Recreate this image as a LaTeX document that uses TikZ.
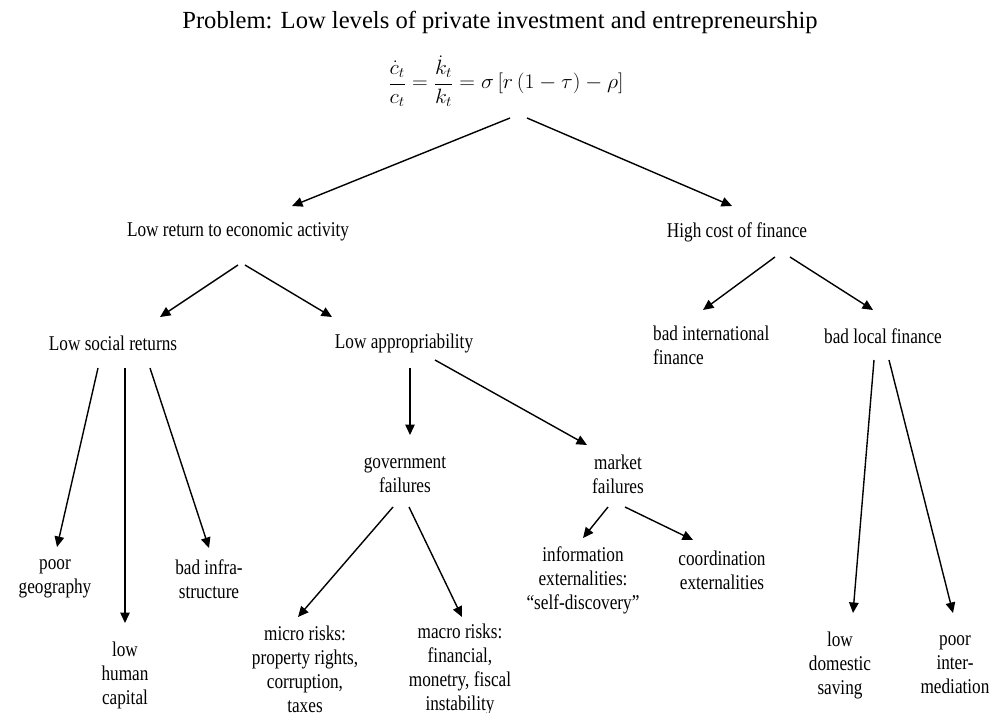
\documentclass[tikz,border=0pt]{standalone}
\usepackage{fontspec}
\setmainfont{Liberation Serif}
\newfontfamily\condfont{Liberation Serif}[FakeStretch=0.82]
\usetikzlibrary{arrows.meta}
\tikzset{
  lbl/.style={inner sep=0pt, align=center, font=\condfont\fontsize{21}{24}\selectfont},
  arr/.style={-{Triangle[length=10.5pt,width=9.5pt]}, line width=1.4pt},
}
\begin{document}
\begin{tikzpicture}[x=1pt,y=-1pt]
\useasboundingbox (0,0) rectangle (998,712);
\fill[white] (0,0) rectangle (998,712);
% title and equation
\node[inner sep=0pt, font=\fontsize{24.6}{28}\selectfont] (title) at (500,22) {Problem: Low levels of private investment and entrepreneurship};
\node[inner sep=0pt, font=\fontsize{20.5}{24}\selectfont] (eq) at (506,81) {\scalebox{1.05}[1]{$\displaystyle \frac{\dot{c}_t}{c_t}=\frac{\dot{k}_t}{k_t}=\sigma\left[r\left(1-\tau\right)-\rho\right]$}};
% level 1
\node[lbl] (lrea) at (238,232) {Low return to economic activity};
\node[lbl] (hcf) at (737,232) {High cost of finance};
% level 2
\node[lbl] (lsr) at (113,343) {Low social returns};
\node[lbl] (lap) at (404,343) {Low appropriability};
\node[lbl, align=left, anchor=west] (bif) at (653,345) {bad international\\finance};
\node[lbl] (blf) at (883,336) {bad local finance};
% level 3
\node[lbl] (gf) at (405,475) {government\\failures};
\node[lbl] (mf) at (618,474) {market\\failures};
\node[lbl] (pg) at (55,579) {poor\\geography};
\node[lbl] (lhc) at (125,675) {low\\human\\capital};
\node[lbl] (bi) at (209,579) {bad infra-\\structure};
% level 4
\node[lbl] (micro) at (305,669) {micro risks:\\property rights,\\corruption,\\taxes};
\node[lbl] (macro) at (460,669) {macro risks:\\financial,\\monetry, fiscal\\instability};
\node[lbl] (info) at (583,580) {information\\externalities:\\“self-discovery”};
\node[lbl] (coord) at (722,570) {coordination\\externalities};
\node[lbl] (lds) at (840,665) {low\\domestic\\saving};
\node[lbl] (pim) at (955,665) {poor\\inter-\\mediation};
% connectors
\draw[arr] ([shift={(4,37)}]eq.center) -- ([shift={(54,-26)}]lrea.center);
\draw[arr] ([shift={(21,37)}]eq.center) -- ([shift={(-5,-26)}]hcf.center);
\draw[arr] ([shift={(0,33)}]lrea.center) -- ([shift={(47,-26)}]lsr.center);
\draw[arr] ([shift={(7,33)}]lrea.center) -- ([shift={(-72,-26)}]lap.center);
\draw[arr] ([shift={(38,25)}]hcf.center) -- ([shift={(50,-35)}]bif.west);
\draw[arr] ([shift={(53,25)}]hcf.center) -- ([shift={(-10,-26)}]blf.center);
\draw[arr] ([shift={(-15,25)}]lsr.center) -- ([shift={(2,-32)}]pg.center);
\draw[arr] ([shift={(12,25)}]lsr.center) -- ([shift={(0,-52)}]lhc.center);
\draw[arr] ([shift={(37,25)}]lsr.center) -- ([shift={(0,-31)}]bi.center);
\draw[arr] ([shift={(6,25)}]lap.center) -- ([shift={(5,-40)}]gf.center);
\draw[arr] ([shift={(31,17)}]lap.center) -- ([shift={(-31,-29)}]mf.center);
\draw[arr] ([shift={(-12,32)}]gf.center) -- ([shift={(-7,-52)}]micro.center);
\draw[arr] ([shift={(4,32)}]gf.center) -- ([shift={(2,-52)}]macro.center);
\draw[arr] ([shift={(-10,33)}]mf.center) -- ([shift={(0,-42)}]info.center);
\draw[arr] ([shift={(7,33)}]mf.center) -- ([shift={(-29,-30)}]coord.center);
\draw[arr] ([shift={(-9,24)}]blf.center) -- ([shift={(13,-52)}]lds.center);
\draw[arr] ([shift={(6,24)}]blf.center) -- ([shift={(-2,-52)}]pim.center);
\end{tikzpicture}
\end{document}
